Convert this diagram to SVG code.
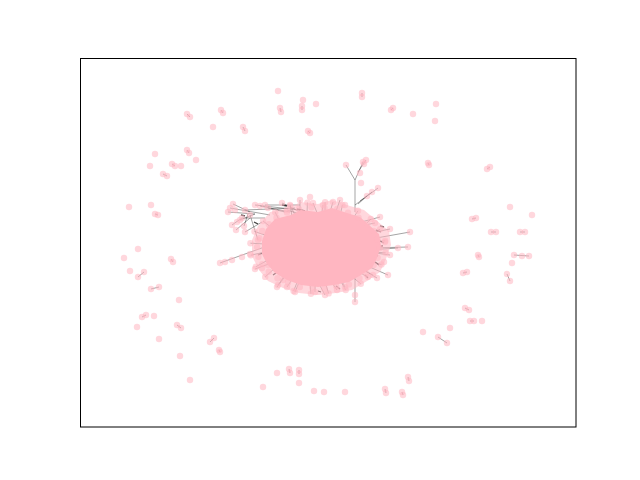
<svg xmlns="http://www.w3.org/2000/svg" width="640" height="480" viewBox="0 0 640 480">
<style>
.n{fill:#ffb6c1;fill-opacity:.55}
.c{fill:#ffb6c1}
.e{stroke:#000;stroke-opacity:.45;stroke-width:.8;fill:none}
.d{stroke:#000;stroke-opacity:.75;stroke-width:1.3;fill:none}
</style>
<rect x="0" y="0" width="640" height="480" fill="#fff"/>
<g id="connectors">
<path class="e" d="M362 93L362 97M391 110L393 108M280 108L281 112M302 106L302 110M308 131L310 133M243 127L245 131M221 110L223 113M187 114L190 117M172 164L175 166M187 150L189 153M163 174L167 176M155 214L158 215M171 259L173 262M138 277L144 272M151 289L159 287M142 317L146 315M177 325L181 328M210 342L214 338M219 350L220 352M289 369L290 373M299 370L299 374M385 389L386 393M402 392L403 395M408 377L409 381M438 337L447 343M470 321L474 321M465 308L469 310M463 273L467 272M478 255L479 257M514 255L529 256M507 274L510 281M428 163L429 165M487 169L490 167M472 219L476 218M491 232L496 232M520 232L525 232"/>
<path class="e" d="M270 215L230 208M250 212L233 204M255 214L228 212M265 218L242 218L232 225M300 210L255 205M300 212L282 203M300 214L287 210M250 215L258 240M262 222L245 232M270 245L220 263M285 258L255 269M290 270L277 287M295 275L287 287M300 280L295 292M315 280L315 292M318 282L325 295M330 280L337 290M340 278L345 287M355 273L355 302M365 240L410 232M360 235L390 229M350 225L380 217M350 228L375 223M370 248L408 247M368 250L398 248M368 252L390 255M365 265L388 275M360 268L377 278M355 270L368 277M355 212L355 180L363 162M358 172L366 160M355 180L346 165M355 205L378 188M360 201L372 192M358 204L367 196M318 215L313 203M322 212L323 205M330 212L333 202M335 214L340 200M300 214L300 200M295 215L290 205M290 212L260 206M285 212L268 208M255 214L240 220M300 205L265 205M295 208L245 210M248 214L244 226M250 218L236 230"/>
<path class="e" d="M370 252L385.6 252.8M365 260L381.5 264.5M360 268L373 275M350 275L360.8 283.8M340 280L345.7 290M325 282L328.6 293.4M310 282L310.9 293.8M298 280L293.6 291M285 275L278 285M275 268L265.2 276.9M268 260L255.9 266.7M265 252L250.8 255.2M265 244L250.4 243.2M268 236L254.5 231.5M272 228L263 221M280 222L275.2 212.2M292 216L290.3 206M307 214L307.4 202.6M325 214L325.1 202.3M340 216L342.4 205M352 220L358 210.8M362 228L370.8 219M368 234L380.1 229.3M370 242L385.2 240.8"/>
<path class="d" d="M297 209L305 211M376 230L381 232M378 240L384 243M372 253L378 256M336 286L340 289M290 270L294 274M302 278L305 282M269 262L274 260M258 255L263 253M283 267L286 265M375 262L379 265M254 222L258 224M282 205L287 206M378 246L383 246M380 226L384 227M318 291L321 292M273 275L276 273M365 275L368 278M241 215L245 216"/>
</g>
<g id="cluster">
<path class="c" fill-opacity=".55" d="M258 226L270 212L290 208L300 202L318 204L332 200L350 206L364 210L376 220L389 231L391 245L386 259L380 272L367 281L352 290L336 293L318 295L299 293L283 288L268 281L259 270L252 256L252 240Z"/>
<path class="c" d="M266 229L275 219L291 215L301 210L318 212L332 208L347 213L360 217L369 225L379 234L381 246L377 258L372 268L361 275L349 282L334 285L318 287L301 285L287 280L275 273L267 264L262 254L262 241Z"/>
<g class="n">
<circle cx="380" cy="248" r="3.2"/><circle cx="377.6" cy="257.7" r="3.2"/><circle cx="373.7" cy="265.1" r="3.2"/><circle cx="366.2" cy="273.7" r="3.2"/><circle cx="359.5" cy="278.2" r="3.2"/><circle cx="349" cy="284.4" r="3.2"/><circle cx="336.2" cy="286" r="3.2"/><circle cx="324.5" cy="288.8" r="3.2"/><circle cx="312.5" cy="287.8" r="3.2"/><circle cx="299.8" cy="287" r="3.2"/><circle cx="288" cy="282.4" r="3.2"/><circle cx="277.5" cy="278.2" r="3.2"/><circle cx="268.8" cy="271.7" r="3.2"/><circle cx="262.3" cy="264.1" r="3.2"/><circle cx="258.4" cy="256.7" r="3.2"/><circle cx="257" cy="247" r="3.2"/><circle cx="259.4" cy="238.3" r="3.2"/><circle cx="262.3" cy="230.9" r="3.2"/><circle cx="268.8" cy="224.3" r="3.2"/><circle cx="276.5" cy="217.8" r="3.2"/><circle cx="287" cy="212.6" r="3.2"/><circle cx="298.8" cy="209" r="3.2"/><circle cx="311.5" cy="207.2" r="3.2"/><circle cx="324.5" cy="208.2" r="3.2"/><circle cx="337.2" cy="209" r="3.2"/><circle cx="348" cy="212.6" r="3.2"/><circle cx="358.5" cy="217.8" r="3.2"/><circle cx="367.2" cy="224.3" r="3.2"/><circle cx="373.7" cy="230.9" r="3.2"/><circle cx="377.6" cy="239.3" r="3.2"/>
<circle cx="385.6" cy="252.8" r="3.2"/><circle cx="381.5" cy="264.5" r="3.2"/><circle cx="373" cy="275" r="3.2"/><circle cx="360.8" cy="283.8" r="3.2"/><circle cx="345.7" cy="290" r="3.2"/><circle cx="328.6" cy="293.4" r="3.2"/><circle cx="310.9" cy="293.8" r="3.2"/><circle cx="293.6" cy="291" r="3.2"/><circle cx="278" cy="285" r="3.2"/><circle cx="265.2" cy="276.9" r="3.2"/><circle cx="255.9" cy="266.7" r="3.2"/><circle cx="250.8" cy="255.2" r="3.2"/><circle cx="250.4" cy="243.2" r="3.2"/><circle cx="254.5" cy="231.5" r="3.2"/><circle cx="263" cy="221" r="3.2"/><circle cx="275.2" cy="212.2" r="3.2"/><circle cx="290.3" cy="206" r="3.2"/><circle cx="307.4" cy="202.6" r="3.2"/><circle cx="325.1" cy="202.3" r="3.2"/><circle cx="342.4" cy="205" r="3.2"/><circle cx="358" cy="210.8" r="3.2"/><circle cx="370.8" cy="219" r="3.2"/><circle cx="380.1" cy="229.3" r="3.2"/><circle cx="385.2" cy="240.8" r="3.2"/>
<circle cx="230" cy="208" r="3.2"/><circle cx="235" cy="210" r="3.2"/><circle cx="233" cy="204" r="3.2"/><circle cx="228" cy="212" r="3.2"/><circle cx="242" cy="218" r="3.2"/><circle cx="237" cy="222" r="3.2"/><circle cx="232" cy="225" r="3.2"/><circle cx="255" cy="205" r="3.2"/><circle cx="260" cy="206" r="3.2"/><circle cx="268" cy="208" r="3.2"/><circle cx="282" cy="203" r="3.2"/><circle cx="287" cy="210" r="3.2"/><circle cx="245" cy="232" r="3.2"/><circle cx="240" cy="220" r="3.2"/><circle cx="258" cy="240" r="3.2"/><circle cx="250" cy="215" r="3.2"/><circle cx="265" cy="205" r="3.2"/><circle cx="245" cy="210" r="3.2"/><circle cx="244" cy="226" r="3.2"/><circle cx="236" cy="230" r="3.2"/>
<circle cx="220" cy="263" r="3.2"/><circle cx="225" cy="262" r="3.2"/><circle cx="232" cy="260" r="3.2"/><circle cx="242" cy="257" r="3.2"/><circle cx="250" cy="254" r="3.2"/><circle cx="255" cy="269" r="3.2"/><circle cx="262" cy="268" r="3.2"/><circle cx="268" cy="265" r="3.2"/><circle cx="277" cy="287" r="3.2"/><circle cx="283" cy="280" r="3.2"/><circle cx="287" cy="287" r="3.2"/><circle cx="295" cy="292" r="3.2"/>
<circle cx="315" cy="292" r="3.2"/><circle cx="325" cy="295" r="3.2"/><circle cx="337" cy="290" r="3.2"/><circle cx="345" cy="287" r="3.2"/><circle cx="355" cy="295" r="3.2"/><circle cx="355" cy="302" r="3.2"/>
<circle cx="410" cy="232" r="3.2"/><circle cx="390" cy="229" r="3.2"/><circle cx="380" cy="217" r="3.2"/><circle cx="375" cy="223" r="3.2"/><circle cx="408" cy="247" r="3.2"/><circle cx="398" cy="248" r="3.2"/><circle cx="390" cy="255" r="3.2"/><circle cx="388" cy="275" r="3.2"/><circle cx="377" cy="278" r="3.2"/><circle cx="368" cy="277" r="3.2"/><circle cx="385" cy="242" r="3.2"/><circle cx="384" cy="262" r="3.2"/>
<circle cx="363" cy="162" r="3.2"/><circle cx="366" cy="160" r="3.2"/><circle cx="364" cy="164" r="3.2"/><circle cx="346" cy="165" r="3.2"/><circle cx="360" cy="173" r="3.2"/><circle cx="361" cy="183" r="3.2"/><circle cx="378" cy="188" r="3.2"/><circle cx="372" cy="192" r="3.2"/><circle cx="367" cy="196" r="3.2"/>
<circle cx="313" cy="203" r="3.2"/><circle cx="323" cy="205" r="3.2"/><circle cx="333" cy="202" r="3.2"/><circle cx="340" cy="200" r="3.2"/><circle cx="300" cy="200" r="3.2"/><circle cx="290" cy="205" r="3.2"/><circle cx="310" cy="197" r="3.2"/><circle cx="345" cy="205" r="3.2"/>
</g>
</g>
<g id="periphery" class="n">
<circle cx="278" cy="91" r="3.2"/><circle cx="303" cy="100" r="3.2"/><circle cx="316" cy="104" r="3.2"/><circle cx="413" cy="114" r="3.2"/><circle cx="436" cy="104" r="3.2"/><circle cx="435" cy="121" r="3.2"/><circle cx="213" cy="127" r="3.2"/><circle cx="155" cy="154" r="3.2"/><circle cx="150" cy="166" r="3.2"/><circle cx="181" cy="166" r="3.2"/><circle cx="196" cy="160" r="3.2"/><circle cx="129" cy="207" r="3.2"/><circle cx="151" cy="205" r="3.2"/><circle cx="124" cy="258" r="3.2"/><circle cx="138" cy="249" r="3.2"/><circle cx="130" cy="271" r="3.2"/><circle cx="179" cy="300" r="3.2"/><circle cx="154" cy="316" r="3.2"/><circle cx="137" cy="327" r="3.2"/><circle cx="159" cy="339" r="3.2"/><circle cx="180" cy="356" r="3.2"/><circle cx="190" cy="380" r="3.2"/><circle cx="263" cy="387" r="3.2"/><circle cx="277" cy="373" r="3.2"/><circle cx="299" cy="383" r="3.2"/><circle cx="314" cy="391" r="3.2"/><circle cx="324" cy="392" r="3.2"/><circle cx="345" cy="392" r="3.2"/><circle cx="423" cy="332" r="3.2"/><circle cx="450" cy="328" r="3.2"/><circle cx="482" cy="321" r="3.2"/><circle cx="510" cy="207" r="3.2"/><circle cx="512" cy="263" r="3.2"/><circle cx="532" cy="215" r="3.2"/>
<circle cx="362" cy="93" r="3.2"/><circle cx="362" cy="97" r="3.2"/><circle cx="391" cy="110" r="3.2"/><circle cx="393" cy="108" r="3.2"/><circle cx="280" cy="108" r="3.2"/><circle cx="281" cy="112" r="3.2"/><circle cx="302" cy="106" r="3.2"/><circle cx="302" cy="110" r="3.2"/><circle cx="308" cy="131" r="3.2"/><circle cx="310" cy="133" r="3.2"/><circle cx="243" cy="127" r="3.2"/><circle cx="245" cy="131" r="3.2"/><circle cx="221" cy="110" r="3.2"/><circle cx="223" cy="113" r="3.2"/><circle cx="187" cy="114" r="3.2"/><circle cx="190" cy="117" r="3.2"/><circle cx="172" cy="164" r="3.2"/><circle cx="175" cy="166" r="3.2"/><circle cx="187" cy="150" r="3.2"/><circle cx="189" cy="153" r="3.2"/><circle cx="163" cy="174" r="3.2"/><circle cx="167" cy="176" r="3.2"/><circle cx="155" cy="214" r="3.2"/><circle cx="158" cy="215" r="3.2"/><circle cx="171" cy="259" r="3.2"/><circle cx="173" cy="262" r="3.2"/><circle cx="138" cy="277" r="3.2"/><circle cx="144" cy="272" r="3.2"/><circle cx="151" cy="289" r="3.2"/><circle cx="159" cy="287" r="3.2"/><circle cx="142" cy="317" r="3.2"/><circle cx="146" cy="315" r="3.2"/><circle cx="177" cy="325" r="3.2"/><circle cx="181" cy="328" r="3.2"/><circle cx="210" cy="342" r="3.2"/><circle cx="214" cy="338" r="3.2"/><circle cx="219" cy="350" r="3.2"/><circle cx="220" cy="352" r="3.2"/><circle cx="289" cy="369" r="3.2"/><circle cx="290" cy="373" r="3.2"/><circle cx="299" cy="370" r="3.2"/><circle cx="299" cy="374" r="3.2"/><circle cx="385" cy="389" r="3.2"/><circle cx="386" cy="393" r="3.2"/><circle cx="402" cy="392" r="3.2"/><circle cx="403" cy="395" r="3.2"/><circle cx="408" cy="377" r="3.2"/><circle cx="409" cy="381" r="3.2"/><circle cx="438" cy="337" r="3.2"/><circle cx="447" cy="343" r="3.2"/><circle cx="470" cy="321" r="3.2"/><circle cx="474" cy="321" r="3.2"/><circle cx="465" cy="308" r="3.2"/><circle cx="469" cy="310" r="3.2"/><circle cx="463" cy="273" r="3.2"/><circle cx="467" cy="272" r="3.2"/><circle cx="478" cy="255" r="3.2"/><circle cx="479" cy="257" r="3.2"/><circle cx="514" cy="255" r="3.2"/><circle cx="522" cy="256" r="3.2"/><circle cx="529" cy="256" r="3.2"/><circle cx="507" cy="274" r="3.2"/><circle cx="510" cy="281" r="3.2"/><circle cx="428" cy="163" r="3.2"/><circle cx="429" cy="165" r="3.2"/><circle cx="487" cy="169" r="3.2"/><circle cx="490" cy="167" r="3.2"/><circle cx="472" cy="219" r="3.2"/><circle cx="476" cy="218" r="3.2"/><circle cx="491" cy="232" r="3.2"/><circle cx="496" cy="232" r="3.2"/><circle cx="520" cy="232" r="3.2"/><circle cx="525" cy="232" r="3.2"/>
</g>
<rect x="80.5" y="58.5" width="495.5" height="368.5" fill="none" stroke="#000" stroke-width="1"/>
</svg>
